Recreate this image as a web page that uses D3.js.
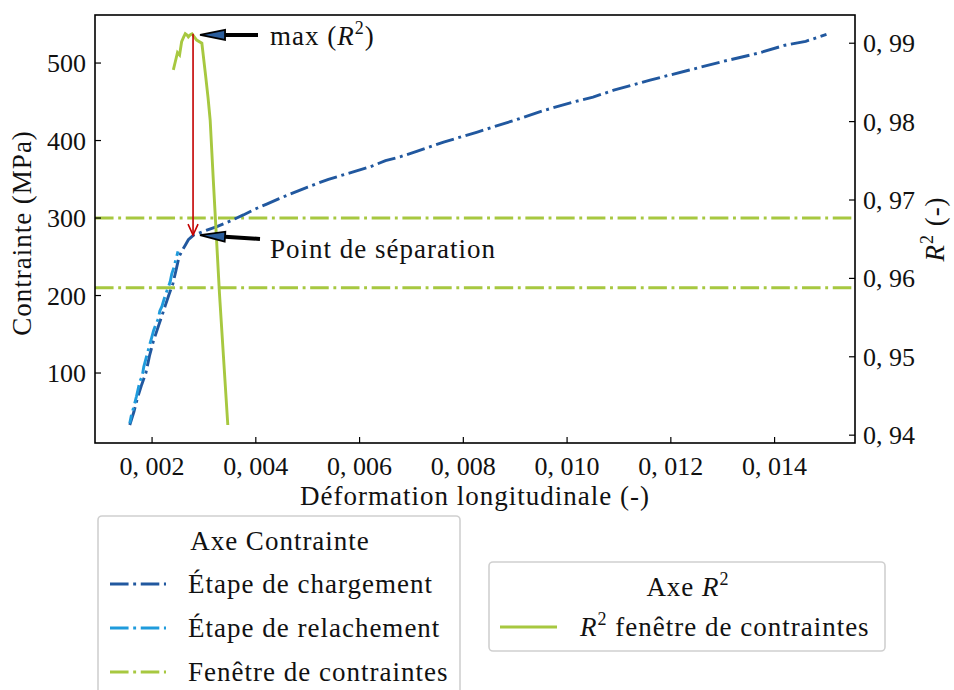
<!DOCTYPE html>
<html><head><meta charset="utf-8">
<script src="https://cdn.jsdelivr.net/npm/d3@7"></script>
<style>body{margin:0;background:#fff}svg{display:block}text{font-family:"Liberation Serif",serif;fill:#111}.w{letter-spacing:1px}</style>
</head><body><svg id="c" width="954" height="690"></svg>
<script>
// ---- data ----
const loadStrain = [0.00157,0.00165,0.00172,0.00180,0.00188,0.00195,0.00202,0.00210,0.00217,0.00225,0.00232,0.00240,0.00246,0.00252,0.00258,0.00264,0.00270,0.00280,0.00300,0.00325,0.00350,0.00376,0.00400,0.00421,0.00445,0.00466,0.00500,0.00540,0.00580,0.00620,0.00650,0.00678,0.00710,0.00762,0.00827,0.00898,0.00956,0.01014,0.01050,0.01090,0.01160,0.01236,0.01300,0.01370,0.01420,0.01460,0.01500];
const loadStress = [33,50,68,85,100,122,140,156,170,186,200,215,232,250,258,265,272,278,283,289,296,304,312,318,325,331,340,350,358,366,374,379,386,398,411,426,439,450,456,465,478,491,502,513,523,528,537];
const relStrain = [0.00157,0.00160,0.00163,0.00167,0.00170,0.00174,0.00177,0.00181,0.00184,0.00188,0.00192,0.00196,0.00199,0.00203,0.00207,0.00212,0.00215,0.00219,0.00223,0.00227,0.00231,0.00235,0.00238,0.00242,0.00245,0.00248,0.00250];
const relStress = [35,45,52,62,70,82,90,96,108,118,128,138,145,155,162,170,180,186,195,203,210,218,228,236,244,252,257];
const windowStress = [300, 210];
const r2Strain = [0.00241,0.00245,0.00249,0.00253,0.00257,0.00261,0.00264,0.00268,0.00270,0.00274,0.00277,0.00286,0.00296,0.00303,0.00308,0.00312,0.00318,0.00330,0.00346];
const r2Value  = [0.9866,0.9877,0.9888,0.9885,0.9902,0.9908,0.9912,0.9910,0.9908,0.9911,0.9912,0.9904,0.9900,0.9860,0.9830,0.9802,0.9726,0.9580,0.9413];
const xTicks = [0.002,0.004,0.006,0.008,0.010,0.012,0.014];
const yTicks = [100,200,300,400,500];
const r2Ticks = [0.94,0.95,0.96,0.97,0.98,0.99];
const maxPoint = [0.00279, 0.9912];
const sepPoint = [0.00279, 278];

// ---- layout ----
const L=95, R=855, T=15, B=443, FS=27, TS=26, LW=2.9;
const colDark="#21589f", colLight="#1f9bdc", colGreen="#a7c840", colRed="#c40000";
const svg=d3.select("#c");
const x=d3.scaleLinear().domain([0.0009,0.01555]).range([L,R]);
const y=d3.scaleLinear().domain([9.7,562]).range([B,T]);
const y2=d3.scaleLinear().domain([0.939,0.9936]).range([B,T]);
const fmt=(d,n)=>d.toFixed(n).replace(".",", ");
const dd=(lw)=>[6.4*lw,1.6*lw,1*lw,1.6*lw].join(",");

// window lines
svg.append("g").selectAll("line").data(windowStress).join("line")
  .attr("x1",L).attr("x2",R).attr("y1",d=>y(d)).attr("y2",d=>y(d))
  .attr("stroke",colGreen).attr("stroke-width",LW).attr("stroke-dasharray",dd(LW));

const line=d3.line().x(d=>x(d[0])).y(d=>y(d[1]));
svg.append("path").datum(loadStrain.map((s,i)=>[s,loadStress[i]])).attr("d",line)
  .attr("fill","none").attr("stroke",colDark).attr("stroke-width",LW).attr("stroke-dasharray",dd(LW));
svg.append("path").datum(relStrain.map((s,i)=>[s,relStress[i]])).attr("d",line)
  .attr("fill","none").attr("stroke",colLight).attr("stroke-width",LW).attr("stroke-dasharray",dd(LW)).attr("stroke-dashoffset",10);
const line2=d3.line().x(d=>x(d[0])).y(d=>y2(d[1]));
svg.append("path").datum(r2Strain.map((s,i)=>[s,r2Value[i]])).attr("d",line2)
  .attr("fill","none").attr("stroke",colGreen).attr("stroke-width",LW);

// red arrow
const rx=x(maxPoint[0]), ry1=y2(maxPoint[1]), ry2=y(sepPoint[1]);
svg.append("line").attr("x1",rx).attr("x2",rx).attr("y1",ry1).attr("y2",ry2)
  .attr("stroke",colRed).attr("stroke-width",1.6);
svg.append("path").attr("d",`M${rx-5},${ry2-11}L${rx},${ry2}L${rx+5},${ry2-11}`)
  .attr("fill","none").attr("stroke",colRed).attr("stroke-width",1.6);

// black annotation arrows
function annot(tip, tail, tx, ty){
  const [x0,y0]=tip,[x1,y1]=tail;
  const ang=Math.atan2(y1-y0,x1-x0), hl=25, hw=5;
  const bx=x0+hl*Math.cos(ang), by=y0+hl*Math.sin(ang);
  const px=-Math.sin(ang)*hw, py=Math.cos(ang)*hw;
  svg.append("line").attr("x1",bx).attr("y1",by).attr("x2",x1).attr("y2",y1)
    .attr("stroke","#000").attr("stroke-width",4);
  svg.append("path").attr("d",`M${x0},${y0}L${bx+px},${by+py}L${bx-px},${by-py}Z`)
    .attr("fill","#2a5d9c").attr("stroke","#000").attr("stroke-width",1.8);
  return svg.append("text").attr("class","w").attr("x",tx).attr("y",ty).attr("font-size",FS);
}
function r2(sel, after){
  sel.append("tspan").attr("font-style","italic").text("R");
  sel.append("tspan").attr("font-size",18).attr("dy",-11).text("2");
  if(after) sel.append("tspan").attr("dy",11).text(after);
}
const t1=annot([rx+7,y2(maxPoint[1])+1],[258,35],270,45);
t1.append("tspan").text("max (");
r2(t1,")");
const t2=annot([rx+7,y(sepPoint[1])],[260,239],270,258);
t2.text("Point de séparation");

// axes frame
svg.append("rect").attr("x",L).attr("y",T).attr("width",R-L).attr("height",B-T)
  .attr("fill","none").attr("stroke","#000").attr("stroke-width",1.6);

// ticks (inward)
const g=svg.append("g");
xTicks.forEach(t=>{
  g.append("line").attr("x1",x(t)).attr("x2",x(t)).attr("y1",B).attr("y2",B-6).attr("stroke","#000").attr("stroke-width",1.2);
  g.append("text").attr("x",x(t)).attr("y",B+32).attr("text-anchor","middle").attr("font-size",TS).text(fmt(t,3));
});
yTicks.forEach(t=>{
  g.append("line").attr("x1",L).attr("x2",L+6).attr("y1",y(t)).attr("y2",y(t)).attr("stroke","#000").attr("stroke-width",1.2);
  g.append("text").attr("x",L-9).attr("y",y(t)+9).attr("text-anchor","end").attr("font-size",TS).text(t);
});
r2Ticks.forEach(t=>{
  g.append("line").attr("x1",R).attr("x2",R-6).attr("y1",y2(t)).attr("y2",y2(t)).attr("stroke","#000").attr("stroke-width",1.2);
  g.append("text").attr("x",R+8).attr("y",y2(t)+9).attr("text-anchor","start").attr("font-size",TS).text(fmt(t,2));
});

// axis labels
svg.append("text").attr("class","w").attr("x",(L+R)/2).attr("y",505).attr("text-anchor","middle").attr("font-size",FS).text("Déformation longitudinale (-)");
svg.append("text").attr("class","w").attr("transform",`translate(31,${(T+B)/2+4}) rotate(-90)`).attr("text-anchor","middle").attr("font-size",FS).text("Contrainte (MPa)");
const yl=svg.append("text").attr("class","w").attr("transform",`translate(944,${(T+B)/2}) rotate(-90)`).attr("text-anchor","middle").attr("font-size",FS);
r2(yl," (-)");

// legend 1
const l1=svg.append("g");
l1.append("rect").attr("x",98).attr("y",516).attr("width",362).attr("height",200).attr("rx",4)
  .attr("fill","#fff").attr("stroke","#d0d0d0").attr("stroke-width",1.6);
l1.append("text").attr("class","w").attr("x",280).attr("y",550).attr("text-anchor","middle").attr("font-size",FS).text("Axe Contrainte");
const leg1=[["Étape de chargement",colDark],["Étape de relachement",colLight],["Fenêtre de contraintes",colGreen]];
leg1.forEach((d,i)=>{
  const yy=584+i*44;
  l1.append("line").attr("x1",110).attr("x2",166).attr("y1",yy).attr("y2",yy).attr("stroke",d[1]).attr("stroke-width",LW).attr("stroke-dasharray",dd(LW));
  l1.append("text").attr("class","w").attr("x",188).attr("y",yy+9).attr("font-size",FS).text(d[0]);
});
// legend 2
const l2=svg.append("g");
l2.append("rect").attr("x",489).attr("y",562).attr("width",396).attr("height",89).attr("rx",4)
  .attr("fill","#fff").attr("stroke","#d0d0d0").attr("stroke-width",1.6);
const lt=l2.append("text").attr("class","w").attr("x",688).attr("y",596).attr("text-anchor","middle").attr("font-size",FS);
lt.append("tspan").text("Axe ");
r2(lt,"");
l2.append("line").attr("x1",500).attr("x2",557).attr("y1",627).attr("y2",627).attr("stroke",colGreen).attr("stroke-width",LW);
const le=l2.append("text").attr("class","w").attr("x",580).attr("y",636).attr("font-size",FS);
r2(le," fenêtre de contraintes");
</script></body></html>
